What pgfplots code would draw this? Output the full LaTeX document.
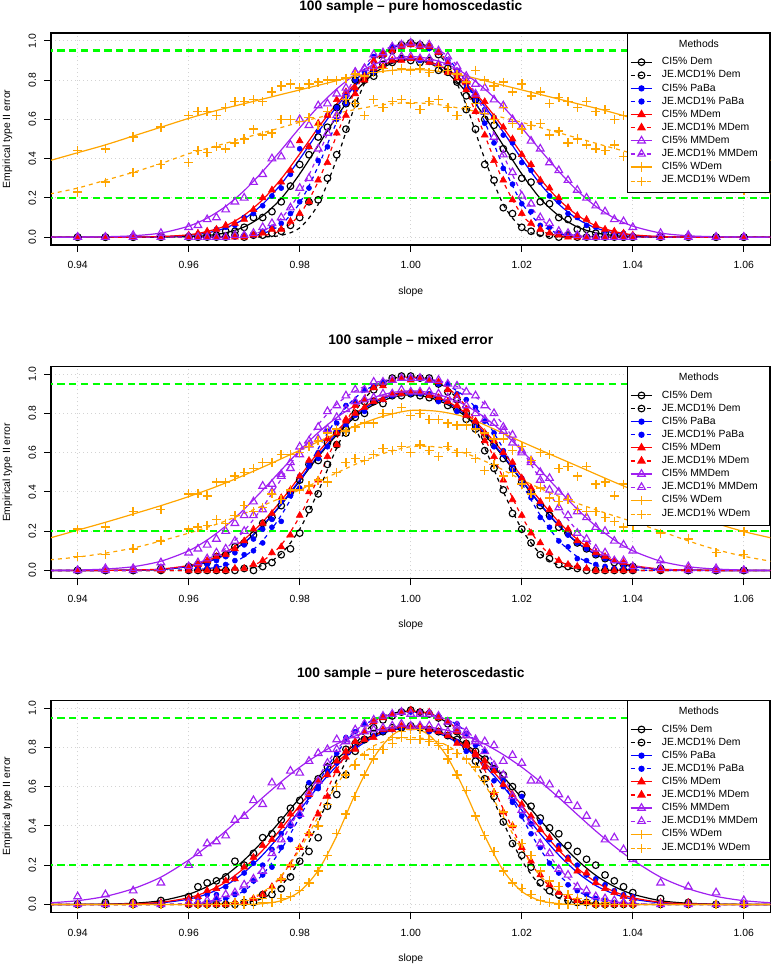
\documentclass[border=0pt]{standalone}
\usepackage{pgfplots}
\usepackage{pgfplotstable}
\pgfplotsset{compat=1.18}
\usepackage{fontspec}
\setmainfont{Liberation Sans}
\definecolor{rpurple}{HTML}{A020F0}
\definecolor{rorange}{HTML}{FFA500}
\definecolor{rgreen}{HTML}{00FF00}
\definecolor{rgrid}{HTML}{D3D3D3}
\newcommand{\tfont}{\fontsize{7.8}{9}\selectfont}
\newcommand{\lent}[1]{\addlegendentry{\rule[-2.93pt]{0pt}{9.83pt}\makebox[79pt][l]{#1}}}
\pgfplotsset{
 mO/.style={mark=o, mark size=2.5pt, mark options={solid, line width=0.85pt}},
 mB/.style={mark=*, mark size=1.9pt, mark options={solid}},
 mR/.style={mark=triangle*, mark size=3pt, mark options={solid}},
 mP/.style={mark=triangle, mark size=3.3pt, mark options={solid, line width=0.85pt}},
 mPlus/.style={mark=+, mark size=3.4pt, mark options={solid, line width=1.1pt, draw=rorange}},
 ls/.style={solid, line width=0.9pt},
 ld/.style={line width=0.9pt, dash pattern=on 3pt off 3pt},
 panel/.style={
  scale only axis, width=539.6pt, height=159pt,
  xmin=0.9352, xmax=1.0648, ymin=-0.04, ymax=1.04,
  axis line style={black, line width=0.9pt},
  tick align=outside, tick pos=left, major tick length=5.25pt,
  major tick style={black, line width=0.75pt},
  xtick={0.94,0.96,0.98,1.00,1.02,1.04,1.06},
  xticklabels={0.94,0.96,0.98,1.00,1.02,1.04,1.06},
  ytick={0,0.2,0.4,0.6,0.8,1.0},
  yticklabels={0.0,0.2,0.4,0.6,0.8,1.0},
  /pgf/number format/assume math mode=true,
  xticklabel style={font=\tfont, anchor=center, yshift=-9.95pt},
  yticklabel style={font=\tfont, anchor=center, xshift=-8.75pt, rotate=90},
  grid=major,
  major grid style={rgrid, line width=0.6pt, dash pattern=on 0.75pt off 2.25pt},
  legend cell align=left,
  legend image code/.code={\draw[mark repeat=2,mark phase=2] plot coordinates {(0pt,0pt) (8.1pt,0pt) (16.2pt,0pt)};},
  legend style={at={(1,1)}, anchor=north east, draw=black, line width=0.75pt, fill=white,
   font=\tfont, inner xsep=2pt, inner ysep=2pt, column sep=6.8pt, row sep=0pt,
   nodes={inner sep=0pt, text depth=}},
 }
}
\newcommand{\series}[6]{%
 \addplot[#4, #5, smooth, forget plot] table[x=x,y=#3]{#1};
 \addplot[#4, only marks, #6, forget plot] table[x=x,y=#3]{#2};
}
\newcommand{\greens}{%
 \addplot[rgreen, line width=2pt, dash pattern=on 5.5pt off 3.3pt, forget plot] coordinates {(0.93,0.95) (1.07,0.95)};
 \addplot[rgreen, line width=2pt, dash pattern=on 5.5pt off 3.3pt, forget plot] coordinates {(0.93,0.2) (1.07,0.2)};
}
\newcommand{\mylegend}{%
 \addlegendimage{empty legend}\addlegendentry{\rule[-6.1pt]{0pt}{14.6pt}\hspace*{12.7pt}Methods}%
 \addlegendimage{black, ls, mO}\lent{CI5\% Dem}%
 \addlegendimage{black, ld, mO}\lent{JE.MCD1\% Dem}%
 \addlegendimage{blue, ls, mB}\lent{CI5\% PaBa}%
 \addlegendimage{blue, ld, mB}\lent{JE.MCD1\% PaBa}%
 \addlegendimage{red, ls, mR}\lent{CI5\% MDem}%
 \addlegendimage{red, ld, mR}\lent{JE.MCD1\% MDem}%
 \addlegendimage{rpurple, ls, mP}\lent{CI5\% MMDem}%
 \addlegendimage{rpurple, ld, mP}\lent{JE.MCD1\% MMDem}%
 \addlegendimage{rorange, ls, mPlus}\lent{CI5\% WDem}%
 \addlegendimage{rorange, ld, mPlus}\addlegendentry{\rule[-4.95pt]{0pt}{11.85pt}\makebox[79pt][l]{JE.MCD1\% WDem}}%
}

% ---------------- panel 1 : pure homoscedastic ----------------
\pgfplotstableread{
x a b c d e f g h i k
0.94 0 0 0 0 0 0 0 0 0.44 0.23
0.945 0 0 0 0 0 0 0 0 0.45 0.28
0.95 0 0 0 0 0 0 0.01 0 0.51 0.33
0.955 0 0 0 0 0 0 0.02 0 0.56 0.37
0.96 0 0 0.01 0 0.01 0 0.05 0 0.62 0.38
0.96167 0 0 0.01 0 0.02 0 0.06 0 0.64 0.44
0.96333 0.01 0 0.02 0 0.03 0 0.09 0 0.64 0.43
0.965 0.01 0 0.04 0 0.04 0 0.10 0 0.62 0.46
0.96667 0.03 0 0.05 0 0.06 0 0.14 0 0.66 0.45
0.96833 0.03 0.01 0.06 0 0.07 0 0.18 0.01 0.69 0.48
0.97 0.05 0 0.10 0.01 0.09 0 0.20 0.01 0.69 0.50
0.97167 0.10 0.01 0.12 0.01 0.14 0.01 0.28 0.02 0.70 0.55
0.97333 0.10 0.01 0.16 0.03 0.20 0.02 0.32 0.05 0.69 0.52
0.975 0.13 0.02 0.21 0.05 0.24 0.04 0.40 0.07 0.74 0.53
0.97667 0.18 0.03 0.25 0.07 0.28 0.04 0.41 0.10 0.77 0.60
0.97833 0.26 0.06 0.32 0.12 0.34 0.08 0.47 0.15 0.78 0.60
0.98 0.37 0.10 0.45 0.18 0.49 0.12 0.60 0.25 0.76 0.59
0.98167 0.42 0.18 0.46 0.25 0.46 0.18 0.57 0.30 0.78 0.61
0.98333 0.51 0.19 0.54 0.39 0.58 0.29 0.67 0.45 0.79 0.57
0.985 0.56 0.30 0.62 0.46 0.62 0.38 0.68 0.53 0.80 0.64
0.98667 0.66 0.42 0.66 0.60 0.70 0.53 0.73 0.62 0.80 0.60
0.98833 0.68 0.55 0.72 0.68 0.74 0.62 0.76 0.73 0.81 0.70
0.99 0.80 0.68 0.75 0.80 0.76 0.73 0.84 0.84 0.83 0.68
0.99167 0.81 0.80 0.82 0.84 0.82 0.80 0.86 0.86 0.82 0.62
0.99333 0.84 0.82 0.84 0.92 0.86 0.90 0.87 0.93 0.84 0.70
0.995 0.88 0.93 0.87 0.93 0.87 0.93 0.90 0.94 0.86 0.66
0.99667 0.89 0.95 0.90 0.97 0.90 0.95 0.92 0.97 0.85 0.69
0.99833 0.91 0.98 0.91 0.97 0.90 0.97 0.92 0.98 0.86 0.70
1.0 0.90 0.99 0.91 0.98 0.91 0.98 0.92 0.99 0.85 0.68
1.00167 0.89 0.98 0.90 0.97 0.91 0.97 0.91 0.98 0.86 0.65
1.00333 0.90 0.97 0.89 0.96 0.89 0.97 0.91 0.98 0.84 0.69
1.005 0.85 0.93 0.88 0.94 0.88 0.94 0.88 0.95 0.87 0.70
1.00667 0.84 0.86 0.84 0.90 0.84 0.89 0.89 0.92 0.85 0.66
1.00833 0.80 0.79 0.82 0.85 0.81 0.83 0.84 0.87 0.83 0.62
1.01 0.72 0.65 0.76 0.78 0.79 0.75 0.82 0.80 0.79 0.66
1.01167 0.70 0.55 0.73 0.70 0.72 0.64 0.78 0.73 0.85 0.68
1.01333 0.60 0.37 0.65 0.58 0.69 0.52 0.76 0.64 0.80 0.63
1.015 0.57 0.29 0.61 0.48 0.61 0.39 0.70 0.51 0.77 0.60
1.01667 0.45 0.15 0.52 0.35 0.56 0.29 0.67 0.42 0.79 0.66
1.01833 0.41 0.12 0.48 0.27 0.50 0.19 0.60 0.33 0.74 0.58
1.02 0.30 0.05 0.38 0.17 0.42 0.12 0.56 0.21 0.78 0.55
1.02167 0.28 0.03 0.34 0.13 0.37 0.07 0.49 0.17 0.72 0.57
1.02333 0.18 0.02 0.28 0.06 0.29 0.04 0.45 0.10 0.74 0.58
1.025 0.17 0.01 0.21 0.05 0.25 0.02 0.38 0.07 0.68 0.52
1.02667 0.10 0 0.18 0.02 0.20 0.01 0.34 0.03 0.71 0.54
1.02833 0.09 0.01 0.12 0.01 0.15 0 0.29 0.02 0.69 0.48
1.03 0.04 0 0.10 0.01 0.11 0 0.24 0.01 0.66 0.50
1.03167 0.04 0 0.06 0 0.09 0 0.20 0 0.69 0.47
1.03333 0.02 0 0.05 0 0.06 0 0.16 0 0.64 0.45
1.035 0.02 0 0.03 0 0.04 0 0.13 0 0.65 0.44
1.03667 0.01 0 0.02 0 0.03 0 0.09 0 0.60 0.47
1.03833 0 0 0.02 0 0.02 0 0.08 0 0.62 0.41
1.04 0 0 0.01 0 0.01 0 0.05 0 0.60 0.43
1.045 0 0 0 0 0 0 0.02 0 0.56 0.38
1.05 0 0 0 0 0 0 0.01 0 0.52 0.35
1.055 0 0 0 0 0 0 0 0 0.48 0.30
1.06 0 0 0 0 0 0 0 0 0.42 0.24
}\mkA
\pgfplotstableread{
x a b c d e f g h
0.935 0 0 0 0 0 0 0 0
0.94 0 0 0 0 0 0 0 0
0.945 0 0 0 0 0 0 0.002 0
0.95 0 0 0 0 0 0 0.007 0
0.955 0 0 0.002 0 0.003 0 0.021 0
0.96 0.003 0 0.009 0 0.012 0 0.056 0
0.96333 0.008 0 0.021 0 0.029 0 0.097 0
0.96667 0.022 0 0.047 0.001 0.058 0 0.157 0.002
0.97 0.052 0 0.093 0.004 0.112 0.001 0.237 0.008
0.97333 0.109 0.001 0.168 0.018 0.191 0.007 0.335 0.031
0.97667 0.197 0.009 0.271 0.065 0.297 0.034 0.444 0.096
0.98 0.322 0.047 0.398 0.174 0.424 0.115 0.557 0.225
0.98333 0.467 0.167 0.535 0.361 0.557 0.283 0.664 0.418
0.98667 0.614 0.398 0.665 0.587 0.679 0.519 0.755 0.634
0.99 0.740 0.672 0.772 0.787 0.781 0.746 0.828 0.813
0.99333 0.833 0.875 0.850 0.909 0.853 0.897 0.879 0.922
0.99667 0.886 0.968 0.893 0.965 0.894 0.963 0.909 0.972
1.0 0.905 0.990 0.910 0.980 0.910 0.980 0.920 0.985
1.00333 0.886 0.968 0.893 0.965 0.894 0.963 0.909 0.972
1.00667 0.833 0.875 0.850 0.909 0.853 0.897 0.879 0.922
1.01 0.740 0.672 0.772 0.787 0.781 0.746 0.828 0.813
1.01333 0.614 0.398 0.665 0.587 0.679 0.519 0.755 0.634
1.01667 0.467 0.167 0.535 0.361 0.557 0.283 0.664 0.418
1.02 0.322 0.047 0.398 0.174 0.424 0.115 0.557 0.225
1.02333 0.197 0.009 0.271 0.065 0.297 0.034 0.444 0.096
1.02667 0.109 0.001 0.168 0.018 0.191 0.007 0.335 0.031
1.03 0.052 0 0.093 0.004 0.112 0.001 0.237 0.008
1.03333 0.022 0 0.047 0.001 0.058 0 0.157 0.002
1.03667 0.008 0 0.021 0 0.029 0 0.097 0
1.04 0.003 0 0.009 0 0.012 0 0.056 0
1.045 0 0 0.002 0 0.003 0 0.021 0
1.05 0 0 0 0 0 0 0.007 0
1.055 0 0 0 0 0 0 0.002 0
1.06 0 0 0 0 0 0 0 0
1.065 0 0 0 0 0 0 0 0
}\lnA

% ---------------- panel 2 : mixed error ----------------
\pgfplotstableread{
x a b c d e f g h i k
0.94 0 0 0 0 0 0 0 0 0.21 0.07
0.945 0 0 0 0 0 0 0.01 0 0.22 0.08
0.95 0 0 0 0 0.01 0 0.01 0 0.30 0.11
0.955 0.01 0 0.01 0 0.01 0 0.04 0.01 0.31 0.15
0.96 0.02 0 0.01 0 0.02 0 0.09 0.02 0.39 0.21
0.96167 0.03 0 0.02 0.01 0.03 0 0.11 0.04 0.39 0.22
0.96333 0.04 0 0.03 0.01 0.05 0 0.13 0.06 0.38 0.23
0.965 0.07 0 0.05 0.02 0.07 0 0.16 0.09 0.45 0.26
0.96667 0.08 0 0.07 0.03 0.08 0 0.20 0.11 0.45 0.24
0.96833 0.12 0 0.09 0.05 0.11 0.01 0.24 0.15 0.48 0.28
0.97 0.14 0.01 0.13 0.08 0.15 0.01 0.28 0.20 0.50 0.33
0.97167 0.18 0 0.16 0.10 0.21 0.03 0.35 0.28 0.52 0.30
0.97333 0.24 0.02 0.21 0.14 0.24 0.05 0.43 0.31 0.55 0.32
0.975 0.27 0.04 0.26 0.22 0.29 0.09 0.44 0.40 0.55 0.39
0.97667 0.33 0.08 0.35 0.25 0.37 0.12 0.49 0.48 0.59 0.36
0.97833 0.40 0.11 0.39 0.38 0.41 0.18 0.55 0.52 0.59 0.41
0.98 0.46 0.19 0.48 0.42 0.48 0.28 0.59 0.63 0.60 0.41
0.98167 0.54 0.31 0.53 0.55 0.56 0.40 0.64 0.66 0.63 0.43
0.98333 0.56 0.39 0.57 0.60 0.59 0.46 0.67 0.73 0.66 0.46
0.985 0.65 0.54 0.63 0.71 0.67 0.58 0.72 0.81 0.70 0.45
0.98667 0.70 0.64 0.71 0.75 0.70 0.64 0.78 0.84 0.72 0.50
0.98833 0.72 0.70 0.74 0.84 0.77 0.76 0.82 0.89 0.71 0.55
0.99 0.80 0.78 0.79 0.86 0.80 0.84 0.86 0.92 0.73 0.57
0.99167 0.80 0.86 0.81 0.92 0.83 0.87 0.87 0.92 0.75 0.56
0.99333 0.86 0.92 0.86 0.94 0.86 0.93 0.88 0.96 0.75 0.59
0.995 0.85 0.95 0.87 0.96 0.87 0.94 0.90 0.96 0.80 0.62
0.99667 0.89 0.98 0.89 0.97 0.90 0.97 0.90 0.97 0.80 0.61
0.99833 0.89 0.99 0.90 0.98 0.90 0.98 0.92 0.98 0.83 0.63
1.0 0.90 0.99 0.90 0.98 0.91 0.97 0.91 0.98 0.79 0.60
1.00167 0.89 0.98 0.90 0.98 0.91 0.98 0.91 0.98 0.80 0.64
1.00333 0.88 0.98 0.90 0.97 0.89 0.97 0.91 0.97 0.77 0.61
1.005 0.87 0.95 0.86 0.95 0.88 0.96 0.90 0.97 0.77 0.58
1.00667 0.84 0.91 0.86 0.95 0.86 0.92 0.88 0.95 0.75 0.63
1.00833 0.82 0.87 0.81 0.90 0.84 0.89 0.87 0.94 0.74 0.60
1.01 0.77 0.80 0.79 0.87 0.79 0.82 0.84 0.91 0.74 0.60
1.01167 0.74 0.72 0.73 0.83 0.76 0.76 0.80 0.89 0.72 0.57
1.01333 0.68 0.61 0.70 0.76 0.70 0.66 0.77 0.84 0.70 0.51
1.015 0.64 0.52 0.63 0.70 0.66 0.58 0.75 0.80 0.67 0.54
1.01667 0.57 0.41 0.59 0.61 0.60 0.46 0.71 0.73 0.67 0.48
1.01833 0.52 0.29 0.51 0.54 0.55 0.36 0.65 0.69 0.61 0.50
1.02 0.45 0.21 0.47 0.44 0.47 0.28 0.61 0.60 0.63 0.44
1.02167 0.40 0.14 0.39 0.37 0.42 0.19 0.56 0.55 0.56 0.39
1.02333 0.33 0.08 0.34 0.27 0.35 0.14 0.50 0.46 0.60 0.42
1.025 0.28 0.06 0.27 0.22 0.31 0.09 0.47 0.41 0.59 0.37
1.02667 0.22 0.03 0.24 0.15 0.24 0.05 0.40 0.32 0.52 0.35
1.02833 0.19 0.02 0.18 0.12 0.21 0.03 0.37 0.28 0.53 0.36
1.03 0.14 0.01 0.14 0.06 0.15 0.02 0.30 0.19 0.48 0.31
1.03167 0.11 0 0.11 0.05 0.13 0.01 0.27 0.16 0.53 0.30
1.03333 0.08 0 0.08 0.03 0.09 0 0.22 0.11 0.44 0.30
1.035 0.06 0 0.06 0.02 0.07 0 0.20 0.09 0.45 0.27
1.03667 0.04 0 0.05 0.01 0.05 0 0.15 0.05 0.38 0.25
1.03833 0.03 0 0.03 0.01 0.04 0 0.13 0.05 0.44 0.22
1.04 0.02 0 0.02 0 0.02 0 0.10 0.02 0.40 0.23
1.045 0.01 0 0.01 0 0.01 0 0.05 0.01 0.37 0.19
1.05 0 0 0 0 0.01 0 0.02 0 0.30 0.16
1.055 0 0 0 0 0 0 0.01 0 0.25 0.09
1.06 0 0 0 0 0 0 0 0 0.20 0.08
}\mkB
\pgfplotstableread{
x a b c d e f g h
0.935 0 0 0 0 0 0 0 0
0.94 0 0 0 0 0 0 0.002 0
0.945 0 0 0 0 0 0 0.007 0
0.95 0.001 0 0.001 0 0.002 0 0.019 0.001
0.955 0.005 0 0.005 0 0.007 0 0.047 0.006
0.96 0.020 0 0.020 0.003 0.025 0 0.100 0.024
0.96333 0.043 0 0.043 0.009 0.050 0.001 0.155 0.057
0.96667 0.081 0.001 0.082 0.026 0.092 0.004 0.226 0.112
0.97 0.141 0.007 0.142 0.070 0.158 0.014 0.312 0.202
0.97333 0.227 0.026 0.230 0.152 0.247 0.049 0.409 0.322
0.97667 0.335 0.085 0.338 0.281 0.356 0.130 0.511 0.465
0.98 0.456 0.210 0.461 0.445 0.478 0.275 0.611 0.613
0.98333 0.579 0.402 0.585 0.620 0.601 0.470 0.702 0.743
0.98667 0.690 0.624 0.698 0.772 0.710 0.672 0.779 0.847
0.99 0.782 0.810 0.791 0.879 0.799 0.833 0.839 0.914
0.99333 0.844 0.924 0.853 0.942 0.860 0.930 0.881 0.955
0.99667 0.881 0.976 0.891 0.972 0.896 0.973 0.906 0.974
1.0 0.895 0.990 0.905 0.980 0.910 0.985 0.915 0.980
1.00333 0.881 0.976 0.891 0.972 0.896 0.973 0.906 0.974
1.00667 0.844 0.924 0.853 0.942 0.860 0.930 0.881 0.955
1.01 0.782 0.810 0.791 0.879 0.799 0.833 0.839 0.914
1.01333 0.690 0.624 0.698 0.772 0.710 0.672 0.779 0.847
1.01667 0.579 0.402 0.585 0.620 0.601 0.470 0.702 0.743
1.02 0.456 0.210 0.461 0.445 0.478 0.275 0.611 0.613
1.02333 0.335 0.085 0.338 0.281 0.356 0.130 0.511 0.465
1.02667 0.227 0.026 0.230 0.152 0.247 0.049 0.409 0.322
1.03 0.141 0.007 0.142 0.070 0.158 0.014 0.312 0.202
1.03333 0.081 0.001 0.082 0.026 0.092 0.004 0.226 0.112
1.03667 0.043 0 0.043 0.009 0.050 0.001 0.155 0.057
1.04 0.020 0 0.020 0.003 0.025 0 0.100 0.024
1.045 0.005 0 0.005 0 0.007 0 0.047 0.006
1.05 0.001 0 0.001 0 0.002 0 0.019 0.001
1.055 0 0 0 0 0 0 0.007 0
1.06 0 0 0 0 0 0 0.002 0
1.065 0 0 0 0 0 0 0 0
}\lnB

% ---------------- panel 3 : pure heteroscedastic ----------------
\pgfplotstableread{
x a b c d e f g h i k
0.94 0 0 0 0 0 0 0.04 0 0 0
0.945 0.01 0 0 0 0 0 0.05 0 0 0
0.95 0.01 0 0.01 0 0.01 0 0.07 0 0 0
0.955 0.02 0 0.01 0 0.01 0 0.11 0 0 0
0.96 0.04 0 0.02 0 0.03 0 0.20 0.01 0 0
0.96167 0.09 0 0.03 0.01 0.04 0 0.26 0.01 0 0
0.96333 0.11 0 0.05 0.01 0.07 0 0.31 0.02 0 0
0.965 0.12 0 0.05 0.03 0.08 0 0.32 0.03 0 0
0.96667 0.14 0 0.09 0.03 0.12 0 0.35 0.05 0 0
0.96833 0.22 0 0.13 0.05 0.13 0.01 0.43 0.06 0 0.01
0.97 0.20 0.01 0.16 0.07 0.19 0.01 0.45 0.10 0 0.02
0.97167 0.26 0.01 0.21 0.12 0.24 0.03 0.53 0.13 0 0.03
0.97333 0.34 0.05 0.20 0.15 0.30 0.05 0.51 0.17 0.01 0.03
0.975 0.36 0.05 0.28 0.19 0.33 0.09 0.62 0.26 0.01 0.08
0.97667 0.43 0.08 0.36 0.29 0.40 0.13 0.60 0.33 0.03 0.13
0.97833 0.49 0.14 0.40 0.33 0.46 0.20 0.68 0.41 0.04 0.20
0.98 0.53 0.22 0.46 0.45 0.49 0.29 0.67 0.46 0.07 0.29
0.98167 0.60 0.27 0.62 0.55 0.56 0.36 0.73 0.57 0.11 0.36
0.98333 0.64 0.34 0.59 0.60 0.63 0.46 0.77 0.63 0.17 0.40
0.985 0.70 0.50 0.66 0.68 0.66 0.55 0.79 0.72 0.25 0.51
0.98667 0.74 0.56 0.72 0.77 0.73 0.68 0.84 0.79 0.36 0.60
0.98833 0.79 0.66 0.77 0.85 0.78 0.75 0.83 0.84 0.46 0.66
0.99 0.82 0.78 0.80 0.88 0.79 0.83 0.86 0.89 0.55 0.71
0.99167 0.84 0.84 0.84 0.92 0.84 0.88 0.88 0.92 0.66 0.76
0.99333 0.87 0.90 0.86 0.93 0.85 0.93 0.89 0.94 0.74 0.79
0.995 0.88 0.94 0.88 0.96 0.89 0.95 0.90 0.96 0.79 0.79
0.99667 0.90 0.96 0.89 0.97 0.89 0.97 0.91 0.97 0.85 0.82
0.99833 0.90 0.98 0.90 0.98 0.91 0.98 0.92 0.98 0.88 0.85
1.0 0.91 0.99 0.90 0.98 0.90 0.99 0.91 0.97 0.89 0.84
1.00167 0.90 0.98 0.90 0.98 0.91 0.98 0.91 0.97 0.89 0.84
1.00333 0.89 0.97 0.88 0.98 0.89 0.98 0.91 0.97 0.84 0.83
1.005 0.88 0.95 0.88 0.96 0.88 0.95 0.90 0.96 0.82 0.81
1.00667 0.86 0.92 0.86 0.93 0.86 0.93 0.88 0.93 0.74 0.79
1.00833 0.84 0.88 0.83 0.92 0.82 0.88 0.89 0.91 0.66 0.77
1.01 0.80 0.82 0.78 0.87 0.81 0.82 0.86 0.88 0.58 0.74
1.01167 0.78 0.73 0.76 0.81 0.76 0.77 0.84 0.83 0.45 0.70
1.01333 0.74 0.64 0.70 0.78 0.73 0.70 0.83 0.78 0.35 0.63
1.015 0.69 0.55 0.63 0.69 0.68 0.57 0.81 0.71 0.27 0.57
1.01667 0.66 0.42 0.60 0.63 0.61 0.47 0.73 0.66 0.17 0.47
1.01833 0.60 0.31 0.53 0.52 0.56 0.40 0.76 0.55 0.11 0.40
1.02 0.56 0.25 0.55 0.45 0.51 0.29 0.72 0.48 0.08 0.31
1.02167 0.50 0.19 0.41 0.36 0.45 0.22 0.63 0.42 0.05 0.25
1.02333 0.44 0.11 0.42 0.29 0.38 0.15 0.63 0.31 0.02 0.17
1.025 0.39 0.07 0.33 0.21 0.34 0.10 0.61 0.26 0.01 0.12
1.02667 0.36 0.05 0.30 0.16 0.28 0.06 0.56 0.18 0 0.09
1.02833 0.30 0.02 0.24 0.10 0.23 0.04 0.53 0.15 0 0.05
1.03 0.27 0.01 0.20 0.07 0.17 0.02 0.50 0.09 0 0.03
1.03167 0.23 0.01 0.15 0.05 0.16 0.01 0.45 0.07 0 0.02
1.03333 0.20 0 0.13 0.03 0.11 0 0.41 0.04 0 0
1.035 0.15 0 0.10 0.02 0.08 0 0.33 0.03 0 0.01
1.03667 0.12 0 0.07 0.01 0.06 0 0.34 0.02 0 0
1.03833 0.09 0 0.05 0.01 0.04 0 0.28 0.01 0 0
1.04 0.06 0 0.04 0 0.03 0 0.23 0.01 0 0
1.045 0.03 0 0.01 0 0.01 0 0.11 0 0 0
1.05 0.01 0 0 0 0.01 0 0.09 0 0 0
1.055 0 0 0 0 0 0 0.06 0 0 0
1.06 0 0 0 0 0 0 0.02 0 0 0
}\mkC
\pgfplotstableread{
x a b c d e f g h i k
0.935 0 0 0 0 0 0 0.008 0 0 0
0.94 0 0 0 0 0 0 0.019 0 0 0
0.945 0.002 0 0 0 0 0 0.041 0 0 0
0.95 0.006 0 0.002 0 0.003 0 0.080 0 0 0
0.955 0.019 0 0.008 0 0.011 0 0.139 0 0 0
0.96 0.052 0 0.027 0.003 0.034 0 0.226 0.005 0 0
0.96333 0.091 0 0.053 0.009 0.065 0.001 0.296 0.014 0 0.002
0.96667 0.148 0.002 0.096 0.026 0.114 0.005 0.374 0.040 0 0.006
0.97 0.226 0.008 0.163 0.070 0.185 0.018 0.458 0.094 0 0.021
0.97333 0.322 0.031 0.252 0.152 0.276 0.057 0.544 0.186 0.004 0.062
0.97667 0.430 0.096 0.360 0.281 0.386 0.143 0.625 0.320 0.019 0.146
0.98 0.542 0.225 0.480 0.445 0.504 0.292 0.699 0.484 0.066 0.279
0.98333 0.649 0.418 0.600 0.620 0.619 0.486 0.763 0.648 0.173 0.447
0.98667 0.740 0.634 0.706 0.772 0.722 0.684 0.817 0.788 0.349 0.610
0.99 0.813 0.813 0.793 0.879 0.802 0.839 0.858 0.885 0.562 0.735
0.99333 0.863 0.922 0.851 0.942 0.859 0.932 0.886 0.940 0.747 0.808
0.99667 0.894 0.972 0.887 0.972 0.892 0.974 0.903 0.967 0.862 0.841
1.0 0.905 0.985 0.900 0.980 0.905 0.985 0.910 0.975 0.900 0.850
1.00333 0.894 0.972 0.887 0.972 0.892 0.974 0.903 0.967 0.862 0.841
1.00667 0.863 0.922 0.851 0.942 0.859 0.932 0.886 0.940 0.747 0.808
1.01 0.813 0.813 0.793 0.879 0.802 0.839 0.858 0.885 0.562 0.735
1.01333 0.740 0.634 0.706 0.772 0.722 0.684 0.817 0.788 0.349 0.610
1.01667 0.649 0.418 0.600 0.620 0.619 0.486 0.763 0.648 0.173 0.447
1.02 0.542 0.225 0.480 0.445 0.504 0.292 0.699 0.484 0.066 0.279
1.02333 0.430 0.096 0.360 0.281 0.386 0.143 0.625 0.320 0.019 0.146
1.02667 0.322 0.031 0.252 0.152 0.276 0.057 0.544 0.186 0.004 0.062
1.03 0.226 0.008 0.163 0.070 0.185 0.018 0.458 0.094 0 0.021
1.03333 0.148 0.002 0.096 0.026 0.114 0.005 0.374 0.040 0 0.006
1.03667 0.091 0 0.053 0.009 0.065 0.001 0.296 0.014 0 0.002
1.04 0.052 0 0.027 0.003 0.034 0 0.226 0.005 0 0
1.045 0.019 0 0.008 0 0.011 0 0.139 0 0 0
1.05 0.006 0 0.002 0 0.003 0 0.080 0 0 0
1.055 0.002 0 0 0 0 0 0.041 0 0 0
1.06 0 0 0 0 0 0 0.019 0 0 0
1.065 0 0 0 0 0 0 0.008 0 0 0
}\lnC

\begin{document}
\begin{tikzpicture}
\useasboundingbox (0,0) rectangle (578.25pt,724.5pt);

% ===== panel 1 =====
\begin{axis}[panel, at={(38.25pt,540.75pt)}, anchor=south west]
\series{\lnA}{\mkA}{a}{black}{ls}{mO}
\series{\lnA}{\mkA}{b}{black}{ld}{mO}
\series{\lnA}{\mkA}{c}{blue}{ls}{mB}
\series{\lnA}{\mkA}{d}{blue}{ld}{mB}
\series{\lnA}{\mkA}{e}{red}{ls}{mR}
\series{\lnA}{\mkA}{f}{red}{ld}{mR}
\series{\lnA}{\mkA}{g}{rpurple}{ls}{mP}
\series{\lnA}{\mkA}{h}{rpurple}{ld}{mP}
\addplot[rorange, ls, smooth, forget plot] coordinates {(0.935,0.39)(0.94,0.43)(0.945,0.47)(0.95,0.515)(0.955,0.56)(0.96,0.605)(0.965,0.645)(0.97,0.68)(0.975,0.715)(0.98,0.75)(0.985,0.785)(0.99,0.82)(0.995,0.845)(1.0,0.855)(1.005,0.845)(1.01,0.82)(1.015,0.785)(1.02,0.75)(1.025,0.715)(1.03,0.68)(1.035,0.645)(1.04,0.605)(1.045,0.56)(1.05,0.515)(1.055,0.47)(1.06,0.43)(1.065,0.39)};
\addplot[rorange, only marks, mPlus, forget plot] table[x=x,y=i]{\mkA};
\addplot[rorange, ld, smooth, forget plot] coordinates {(0.935,0.22)(0.94,0.25)(0.945,0.29)(0.95,0.33)(0.955,0.375)(0.96,0.425)(0.965,0.465)(0.97,0.505)(0.975,0.545)(0.98,0.585)(0.985,0.62)(0.99,0.65)(0.995,0.675)(1.0,0.685)(1.005,0.675)(1.01,0.65)(1.015,0.62)(1.02,0.585)(1.025,0.545)(1.03,0.505)(1.035,0.465)(1.04,0.425)(1.045,0.375)(1.05,0.33)(1.055,0.29)(1.06,0.25)(1.065,0.22)};
\addplot[rorange, only marks, mPlus, forget plot] table[x=x,y=k]{\mkA};
\greens
\mylegend
\end{axis}

% ===== panel 2 =====
\begin{axis}[panel, at={(38.25pt,290.8pt)}, anchor=south west]
\series{\lnB}{\mkB}{a}{black}{ls}{mO}
\series{\lnB}{\mkB}{b}{black}{ld}{mO}
\series{\lnB}{\mkB}{c}{blue}{ls}{mB}
\series{\lnB}{\mkB}{d}{blue}{ld}{mB}
\series{\lnB}{\mkB}{e}{red}{ls}{mR}
\series{\lnB}{\mkB}{f}{red}{ld}{mR}
\series{\lnB}{\mkB}{g}{rpurple}{ls}{mP}
\series{\lnB}{\mkB}{h}{rpurple}{ld}{mP}
\addplot[rorange, ls, smooth, forget plot] coordinates {(0.935,0.165)(0.94,0.205)(0.945,0.245)(0.95,0.287)(0.955,0.33)(0.96,0.376)(0.965,0.427)(0.97,0.485)(0.975,0.547)(0.98,0.612)(0.985,0.677)(0.99,0.735)(0.995,0.785)(1.0,0.815)(1.005,0.81)(1.01,0.78)(1.015,0.72)(1.02,0.655)(1.025,0.593)(1.03,0.532)(1.035,0.47)(1.04,0.41)(1.045,0.35)(1.05,0.292)(1.055,0.24)(1.06,0.198)(1.065,0.165)};
\addplot[rorange, only marks, mPlus, forget plot] table[x=x,y=i]{\mkB};
\addplot[rorange, ld, smooth, forget plot] coordinates {(0.935,0.054)(0.94,0.068)(0.945,0.088)(0.95,0.114)(0.955,0.15)(0.96,0.19)(0.965,0.235)(0.97,0.29)(0.975,0.35)(0.98,0.41)(0.985,0.475)(0.99,0.54)(0.995,0.595)(1.0,0.63)(1.005,0.628)(1.01,0.595)(1.015,0.535)(1.02,0.462)(1.025,0.397)(1.03,0.342)(1.035,0.293)(1.04,0.248)(1.045,0.2)(1.05,0.15)(1.055,0.106)(1.06,0.072)(1.065,0.046)};
\addplot[rorange, only marks, mPlus, forget plot] table[x=x,y=k]{\mkB};
\greens
\mylegend
\end{axis}

% ===== panel 3 =====
\begin{axis}[panel, at={(38.25pt,40.3pt)}, anchor=south west]
\series{\lnC}{\mkC}{a}{black}{ls}{mO}
\series{\lnC}{\mkC}{b}{black}{ld}{mO}
\series{\lnC}{\mkC}{c}{blue}{ls}{mB}
\series{\lnC}{\mkC}{d}{blue}{ld}{mB}
\series{\lnC}{\mkC}{e}{red}{ls}{mR}
\series{\lnC}{\mkC}{f}{red}{ld}{mR}
\series{\lnC}{\mkC}{g}{rpurple}{ls}{mP}
\series{\lnC}{\mkC}{h}{rpurple}{ld}{mP}
\series{\lnC}{\mkC}{i}{rorange}{ls}{mPlus}
\series{\lnC}{\mkC}{k}{rorange}{ld}{mPlus}
\greens
\mylegend
\end{axis}

% ===== titles and axis labels =====
\foreach \yt/\ys/\yl/\tt in {718.95/505.7/620.25/pure homoscedastic, 468.7/255.75/370.1/mixed error, 218.7/5.25/119.9/pure heteroscedastic}{
 \node[font=\bfseries\fontsize{10.3}{12}\selectfont, anchor=center] at (308.1pt,\yt pt) {100 sample – \tt};
 \node[font=\tfont, anchor=center] at (308.1pt,\ys pt) {slope};
 \node[font=\tfont, anchor=center, rotate=90] at (5.5pt,\yl pt) {Empirical type II error};
}
\end{tikzpicture}
\end{document}
